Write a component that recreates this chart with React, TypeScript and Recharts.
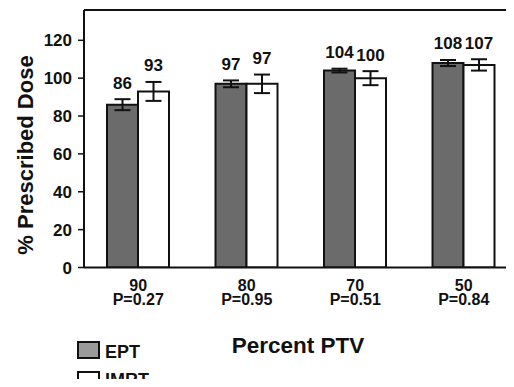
import { BarChart, Bar, XAxis, YAxis, ErrorBar, LabelList, Legend, ReferenceLine } from "recharts";

const categories = ["90", "80", "70", "50"];
const pValues = ["P=0.27", "P=0.95", "P=0.51", "P=0.84"];
const eptDose = [86, 97, 104, 108];
const imrtDose = [93, 97, 100, 107];
const eptErr = [2.9, 1.8, 1, 1.6];
const imrtErr = [5, 4.9, 3.7, 3];
const yTicks = [0, 20, 40, 60, 80, 100, 120];
const Y_MAX = 136;

const FONT = '"Liberation Sans", Arial, Helvetica, sans-serif';
const INK = "#111";

const data = categories.map((c, i) => ({
  pct: c,
  p: pValues[i],
  ept: eptDose[i],
  imrt: imrtDose[i],
  eptErr: eptErr[i],
  imrtErr: imrtErr[i],
}));

const legendItems = [
  { name: "EPT", fill: "#9a9a9a" },
  { name: "IMRT", fill: "#ffffff" },
];

// label sits a fixed distance above the top of the error bar
const makeValueLabel = (errs: number[]) => (props: any) => {
  const vb = props.viewBox || props;
  const x = vb.x ?? props.x;
  const y = vb.y ?? props.y;
  const width = vb.width ?? props.width;
  const height = vb.height ?? props.height;
  const value = Number(props.value);
  const errPx = value ? (errs[props.index] * height) / value : 0;
  return (
    <text
      x={x + width / 2}
      y={y - errPx - 16}
      textAnchor="middle"
      dominantBaseline="central"
      fontFamily={FONT}
      fontWeight="bold"
      fontSize={17}
      fill={INK}
    >
      {props.value}
    </text>
  );
};

const XTick = (props: any) => {
  const { x, y, payload, index } = props;
  return (
    <g>
      <text x={x} y={y + 23.5} textAnchor="middle" fontFamily={FONT} fontWeight="bold" fontSize={16} fill={INK}>
        {payload.value}
      </text>
      <text x={x} y={y + 37} textAnchor="middle" fontFamily={FONT} fontWeight="bold" fontSize={16} fill={INK}>
        {pValues[index]}
      </text>
    </g>
  );
};

const renderLegend = () => (
  <svg width={110} height={50} style={{ overflow: "visible" }}>
    {legendItems.map((item, i) => (
      <g key={item.name} transform={`translate(0, ${i * 30})`}>
        <rect x={1} y={1} width={21} height={16} fill={item.fill} stroke={INK} strokeWidth={2} />
        <text x={28} y={i === 0 ? 17 : 14.5} fontFamily={FONT} fontWeight="bold" fontSize={18} fill={INK}>
          {item.name}
        </text>
      </g>
    ))}
  </svg>
);

export default function App() {
  return (
    <div style={{ margin: -8, width: 514, height: 387, overflow: "hidden", position: "relative", background: "#fff" }}>
      <BarChart
        width={530}
        height={387}
        data={data}
        margin={{ top: 10, right: 12, left: 0, bottom: 0 }}
        barGap={0}
        barSize={31}
      >
        <XAxis
          dataKey="pct"
          height={119.5}
          axisLine={{ stroke: INK, strokeWidth: 2 }}
          tickLine={false}
          tickSize={0}
          tickMargin={0}
          tick={<XTick />}
          interval={0}
          label={(props: any) => {
            const vb = props.viewBox || {};
            return (
              <text
                x={vb.x + vb.width / 2 - 3}
                y={vb.y + 85}
                textAnchor="middle"
                fontFamily={FONT}
                fontWeight="bold"
                fontSize={22.5}
                fill={INK}
              >
                Percent PTV
              </text>
            );
          }}
        />
        <YAxis
          width={84}
          domain={[0, Y_MAX]}
          ticks={yTicks}
          allowDataOverflow
          axisLine={{ stroke: INK, strokeWidth: 2 }}
          tickLine={{ stroke: INK, strokeWidth: 1.5 }}
          tickSize={6}
          tickMargin={6}
          tick={{ fontFamily: FONT, fontWeight: "bold", fontSize: 17, fill: INK }}
          label={() => (
            <text
              x={25}
              y={155}
              transform="rotate(-90, 25, 155)"
              textAnchor="middle"
              dominantBaseline="central"
              fontFamily={FONT}
              fontWeight="bold"
              fontSize={22}
              fill={INK}
            >
              % Prescribed Dose
            </text>
          )}
        />
        <ReferenceLine y={Y_MAX} stroke={INK} strokeWidth={2} />
        <Legend
          layout="vertical"
          align="center"
          verticalAlign="middle"
          content={renderLegend}
          wrapperStyle={{ left: 77, top: 341, width: 110, height: 50 }}
        />
        <Bar dataKey="ept" name="EPT" fill="#6b6b6b" stroke={INK} strokeWidth={2} isAnimationActive={false}>
          <ErrorBar dataKey="eptErr" width={8} stroke={INK} strokeWidth={2} />
          <LabelList dataKey="ept" content={makeValueLabel(eptErr)} />
        </Bar>
        <Bar dataKey="imrt" name="IMRT" fill="#ffffff" stroke={INK} strokeWidth={2} isAnimationActive={false}>
          <ErrorBar dataKey="imrtErr" width={8} stroke={INK} strokeWidth={2} />
          <LabelList dataKey="imrt" content={makeValueLabel(imrtErr)} />
        </Bar>
      </BarChart>
    </div>
  );
}
